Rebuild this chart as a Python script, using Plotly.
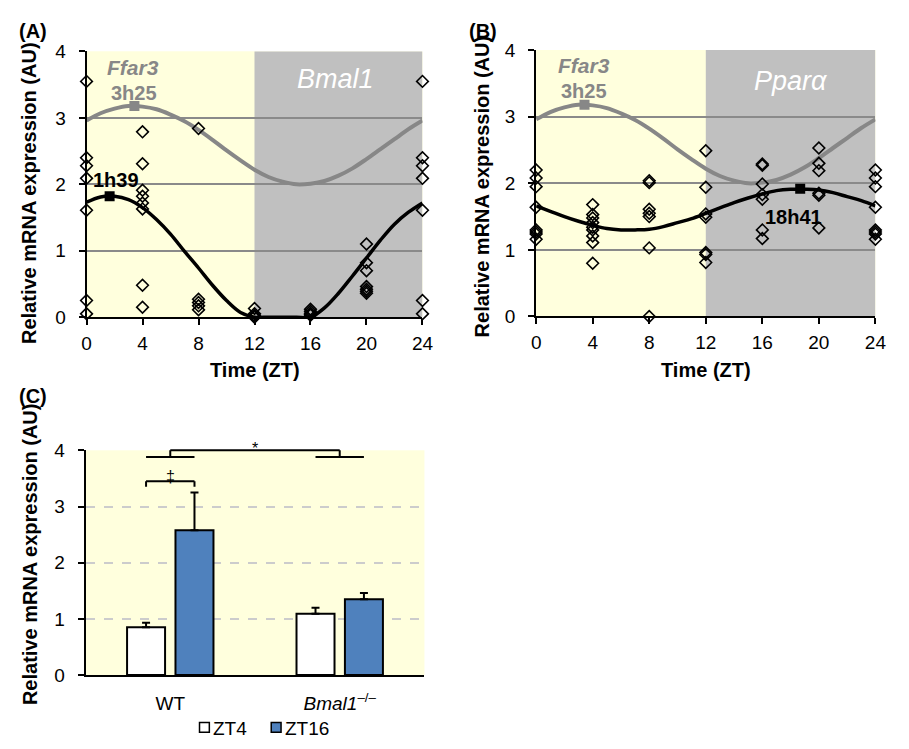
import plotly.graph_objects as go

FONT = "Liberation Sans, Arial, sans-serif"

# ---------------- data ----------------
zt_times = [0, 4, 8, 12, 16, 20, 24]

# Panel A: Bmal1 individual values per ZT (ZT24 replots ZT0)
bmal1_values = [
    [3.55, 2.40, 2.28, 2.09, 1.61, 0.25, 0.05],
    [2.79, 2.31, 1.91, 1.82, 1.72, 1.63, 0.48, 0.15],
    [2.84, 0.27, 0.22, 0.17, 0.11],
    [0.13, 0.05, 0.02, 0.01, 0.0],
    [0.12, 0.09, 0.06, 0.04, 0.03],
    [1.10, 0.82, 0.70, 0.46, 0.42, 0.39, 0.36],
    [3.55, 2.40, 2.28, 2.09, 1.61, 0.25, 0.05],
]

# Panel B: Ppara individual values per ZT (ZT24 replots ZT0)
ppara_values = [
    [2.20, 2.08, 1.95, 1.64, 1.30, 1.27, 1.24, 1.16],
    [1.68, 1.53, 1.48, 1.41, 1.34, 1.30, 1.21, 1.11, 0.80],
    [2.04, 2.01, 1.61, 1.55, 1.50, 1.03, 0.0],
    [2.49, 1.94, 1.54, 1.49, 0.96, 0.93, 0.81],
    [2.29, 2.27, 1.99, 1.83, 1.76, 1.30, 1.17],
    [2.53, 2.30, 2.19, 1.85, 1.82, 1.33],
    [2.20, 2.08, 1.95, 1.64, 1.30, 1.27, 1.24, 1.16],
]

# fitted curves, hourly
curve_hours = [0, 1, 2, 3, 4, 5, 6, 7, 8, 9, 10, 11, 12,
               13, 14, 15, 16, 17, 18, 19, 20, 21, 22, 23, 24]
ffar3_curve = [2.96, 3.07, 3.14, 3.18, 3.17, 3.13, 3.05, 2.95, 2.82, 2.67, 2.51, 2.36, 2.22,
               2.11, 2.04, 2.00, 2.01, 2.05, 2.13, 2.24, 2.38, 2.53, 2.68, 2.83, 2.96]
bmal1_curve = [1.73, 1.81, 1.82, 1.77, 1.65, 1.47, 1.25, 0.99, 0.74, 0.48, 0.25, 0.07, 0.0,
               0.0, 0.0, 0.0, 0.0, 0.14, 0.36, 0.62, 0.89, 1.16, 1.40, 1.58, 1.72]
ppara_curve = [1.66, 1.58, 1.50, 1.43, 1.37, 1.32, 1.30, 1.30, 1.31, 1.35, 1.41, 1.47, 1.55,
               1.63, 1.71, 1.78, 1.84, 1.89, 1.91, 1.91, 1.90, 1.86, 1.80, 1.74, 1.66]

# acrophases (peak time, peak value, label)
ffar3_peak = [3.42, 3.18, "3h25"]
bmal1_peak = [1.65, 1.82, "1h39"]
ppara_peak = [18.68, 1.92, "18h41"]

light_phase = [0, 12]
dark_phase = [12, 24]

# Panel C
genotype_pos = [0, 1]
genotype_labels = ["WT", "<i>Bmal1</i><sup>–/–</sup>"]
series_names = ["ZT4", "ZT16"]
zt4_mean = [0.85, 1.09]
zt4_sem = [0.08, 0.11]
zt16_mean = [2.58, 1.35]
zt16_sem = [0.67, 0.11]
C_YMAX = 4

YELLOW = "rgb(255,255,221)"
GREY_BG = "rgb(192,192,192)"
GRID = "#8a8a8a"
CURVE_GREY = "#878787"
BLUE = "#4F81BD"
W, H = 909, 749

fig = go.Figure()


def flat(values):
    xs, ys = [], []
    for t, vals in zip(zt_times, values):
        for v in vals:
            xs.append(t)
            ys.append(v)
    return xs, ys


def add_panel(xa, ya, values, curve, peak):
    fig.add_trace(go.Scatter(x=curve_hours, y=ffar3_curve, mode="lines",
                             line=dict(color=CURVE_GREY, width=4, shape="spline"),
                             xaxis=xa, yaxis=ya, showlegend=False, hoverinfo="skip"))
    fig.add_trace(go.Scatter(x=curve_hours, y=curve, mode="lines",
                             line=dict(color="black", width=3.5, shape="spline"),
                             xaxis=xa, yaxis=ya, showlegend=False, hoverinfo="skip"))
    xs, ys = flat(values)
    fig.add_trace(go.Scatter(x=xs, y=ys, mode="markers",
                             marker=dict(symbol="diamond-open", size=9, color="black",
                                         line=dict(width=1.6, color="black")),
                             cliponaxis=False, xaxis=xa, yaxis=ya, showlegend=False))
    fig.add_trace(go.Scatter(x=[ffar3_peak[0]], y=[ffar3_peak[1]], mode="markers",
                             marker=dict(symbol="square", size=10, color=CURVE_GREY),
                             xaxis=xa, yaxis=ya, showlegend=False))
    fig.add_trace(go.Scatter(x=[peak[0]], y=[peak[1]], mode="markers",
                             marker=dict(symbol="square", size=10, color="black"),
                             xaxis=xa, yaxis=ya, showlegend=False))


add_panel("x", "y", bmal1_values, bmal1_curve, bmal1_peak)
add_panel("x2", "y2", ppara_values, ppara_curve, ppara_peak)

# Panel C bars
bar_fill = ["white", BLUE]
for name, means, sems, fill in zip(series_names, [zt4_mean, zt16_mean],
                                   [zt4_sem, zt16_sem], bar_fill):
    fig.add_trace(go.Bar(x=genotype_pos, y=means, name=name,
                         marker=dict(color=fill, line=dict(color="black", width=2)),
                         error_y=dict(type="data", symmetric=False, array=sems,
                                      arrayminus=[0] * len(sems), color="black",
                                      thickness=2, width=4),
                         xaxis="x3", yaxis="y3", showlegend=False))

# ---------------- axes ----------------
tickfont = dict(family=FONT, size=19, color="black")
common_x = dict(range=[0, 24], tickvals=zt_times, ticks="outside", ticklen=6, tickwidth=2,
                tickcolor="black", showline=True, linewidth=2, linecolor="black",
                showgrid=False, zeroline=False, tickfont=tickfont, ticklabelstandoff=2)
common_y = dict(range=[0, 4], tickvals=[0, 1, 2, 3, 4], ticks="outside", ticklen=6,
                tickwidth=2, tickcolor="black", showline=True, linewidth=2,
                linecolor="black", showgrid=True, gridcolor=GRID, gridwidth=1.5,
                zeroline=False, tickfont=tickfont, ticklabelstandoff=9)

fig.update_layout(
    xaxis=dict(domain=[0.0913, 0.4675], anchor="y", **common_x),
    yaxis=dict(domain=[0.5781, 0.9430], anchor="x", **common_y),
    xaxis2=dict(domain=[0.5948, 0.9747], anchor="y2", **common_x),
    yaxis2=dict(domain=[0.5790, 0.9449], anchor="x2", **common_y),
    xaxis3=dict(domain=[0.0902, 0.4697], anchor="y3", range=[-0.5, 1.5],
                tickvals=genotype_pos, ticktext=genotype_labels, ticks="",
                showline=True, linewidth=2, linecolor="black", showgrid=False,
                zeroline=False, tickfont=tickfont, ticklabelstandoff=10),
    yaxis3=dict(domain=[0.0864, 0.3952], anchor="x3", range=[0, C_YMAX + 0.001],
                tickvals=[0, 1, 2, 3, 4], ticks="outside", ticklen=6, tickwidth=1.5,
                tickcolor="black", showline=True, linewidth=2, linecolor="black",
                showgrid=True, gridcolor="#cccccc", gridwidth=1.5, griddash="dash",
                zeroline=False, tickfont=tickfont, ticklabelstandoff=9),
    barmode="group", bargap=0.4286, bargroupgap=0.215,
    plot_bgcolor=YELLOW, paper_bgcolor="white",
    width=W, height=H, margin=dict(l=0, r=0, t=0, b=0),
    font=dict(family=FONT, color="black"),
    showlegend=False,
)

# backgrounds for A and B (light / dark phases)
shapes = []
for xr, yr in (("x", "y domain"), ("x2", "y2 domain")):
    shapes.append(dict(type="rect", xref=xr, yref=yr, x0=light_phase[0], x1=light_phase[1],
                       y0=0, y1=1, fillcolor=YELLOW, line=dict(width=0), layer="below"))
    shapes.append(dict(type="rect", xref=xr, yref=yr, x0=dark_phase[0], x1=dark_phase[1],
                       y0=0, y1=1, fillcolor=GREY_BG, line=dict(width=0), layer="below"))

# significance brackets in C
off = 0.1429
brk = dict(color="black", width=2)
lines_c = [
    (genotype_pos[0] - off, 3.35, genotype_pos[0] - off, 3.45),
    (genotype_pos[0] - off, 3.45, genotype_pos[0] + off, 3.45),
    (genotype_pos[0] + off, 3.45, genotype_pos[0] + off, 3.35),
    (genotype_pos[0] - off, 3.88, genotype_pos[0] + off, 3.88),
    (genotype_pos[1] - off, 3.88, genotype_pos[1] + off, 3.88),
    (genotype_pos[0], 3.88, genotype_pos[0], 4.0),
    (genotype_pos[0], 4.0, genotype_pos[1], 4.0),
    (genotype_pos[1], 4.0, genotype_pos[1], 3.88),
]
for x0, y0, x1, y1 in lines_c:
    shapes.append(dict(type="line", xref="x3", yref="y3 domain", x0=x0, x1=x1,
                       y0=y0 / C_YMAX, y1=y1 / C_YMAX, line=brk, layer="above"))

# legend swatches for C (pixel positions -> paper)
legend_swatches = [(198, 733, 208, 743, "white"), (271, 733, 281, 743, BLUE)]
for x0, y0, x1, y1, col in legend_swatches:
    shapes.append(dict(type="rect", xref="paper", yref="paper", x0=x0 / W, x1=x1 / W,
                       y0=1 - y1 / H, y1=1 - y0 / H, fillcolor=col,
                       line=dict(color="black", width=1.5)))
fig.update_layout(shapes=shapes)

# ---------------- annotations ----------------
ann = []


def txt(text, x, y, xref, yref, size, color="black", angle=0, xanchor="center"):
    ann.append(dict(text=text, x=x, y=y, xref=xref, yref=yref, showarrow=False,
                    font=dict(family=FONT, size=size, color=color), textangle=angle,
                    xanchor=xanchor, yanchor="middle"))


# panel labels
txt("<b>(A)</b>", 0.0319, 0.9706, "paper", "paper", 20)
txt("<b>(B)</b>", 0.5358, 0.9706, "paper", "paper", 20)
txt("<b>(C)</b>", 0.0319, 0.470, "paper", "paper", 20)

# axis titles
ytitle = "<b>Relative mRNA expression (AU)</b>"
txt(ytitle, 0.0275, 0.748, "paper", "paper", 20, angle=-90)
txt(ytitle, 0.5336, 0.757, "paper", "paper", 20, angle=-90)
txt(ytitle, 0.0275, 0.252, "paper", "paper", 20, angle=-90)
txt("<b>Time (ZT)</b>", 12, 0.506, "x", "paper", 20)
txt("<b>Time (ZT)</b>", 12, 0.506, "x2", "paper", 20)

# panel A labels
txt("<b><i>Ffar3</i></b>", 3.3, 3.76, "x", "y", 21, CURVE_GREY)
txt("<b>" + ffar3_peak[2] + "</b>", 3.37, 3.38, "x", "y", 20, CURVE_GREY)
txt("<b>" + bmal1_peak[2] + "</b>", 2.1, 2.06, "x", "y", 20)
txt("<i>Bmal1</i>", 17.8, 3.58, "x", "y", 27, "white")

# panel B labels
txt("<b><i>Ffar3</i></b>", 3.42, 3.77, "x2", "y2", 21, CURVE_GREY)
txt("<b>" + ffar3_peak[2] + "</b>", 3.38, 3.39, "x2", "y2", 20, CURVE_GREY)
txt("<b>" + ppara_peak[2] + "</b>", 18.2, 1.50, "x2", "y2", 20)
txt("<i>Pparα</i>", 18.0, 3.54, "x2", "y2", 27, "white")

# panel C significance marks
txt("‡", genotype_pos[0], 3.53 / C_YMAX, "x3", "y3 domain", 16)
txt("*", (genotype_pos[0] + genotype_pos[1]) / 2, 4.03 / C_YMAX, "x3", "y3 domain", 16)

# legend texts
txt(series_names[0], 210 / W, 1 - 739 / H, "paper", "paper", 19, xanchor="left")
txt(series_names[1], 283 / W, 1 - 739 / H, "paper", "paper", 19, xanchor="left")

fig.update_layout(annotations=ann)

fig.write_html("out.html")
